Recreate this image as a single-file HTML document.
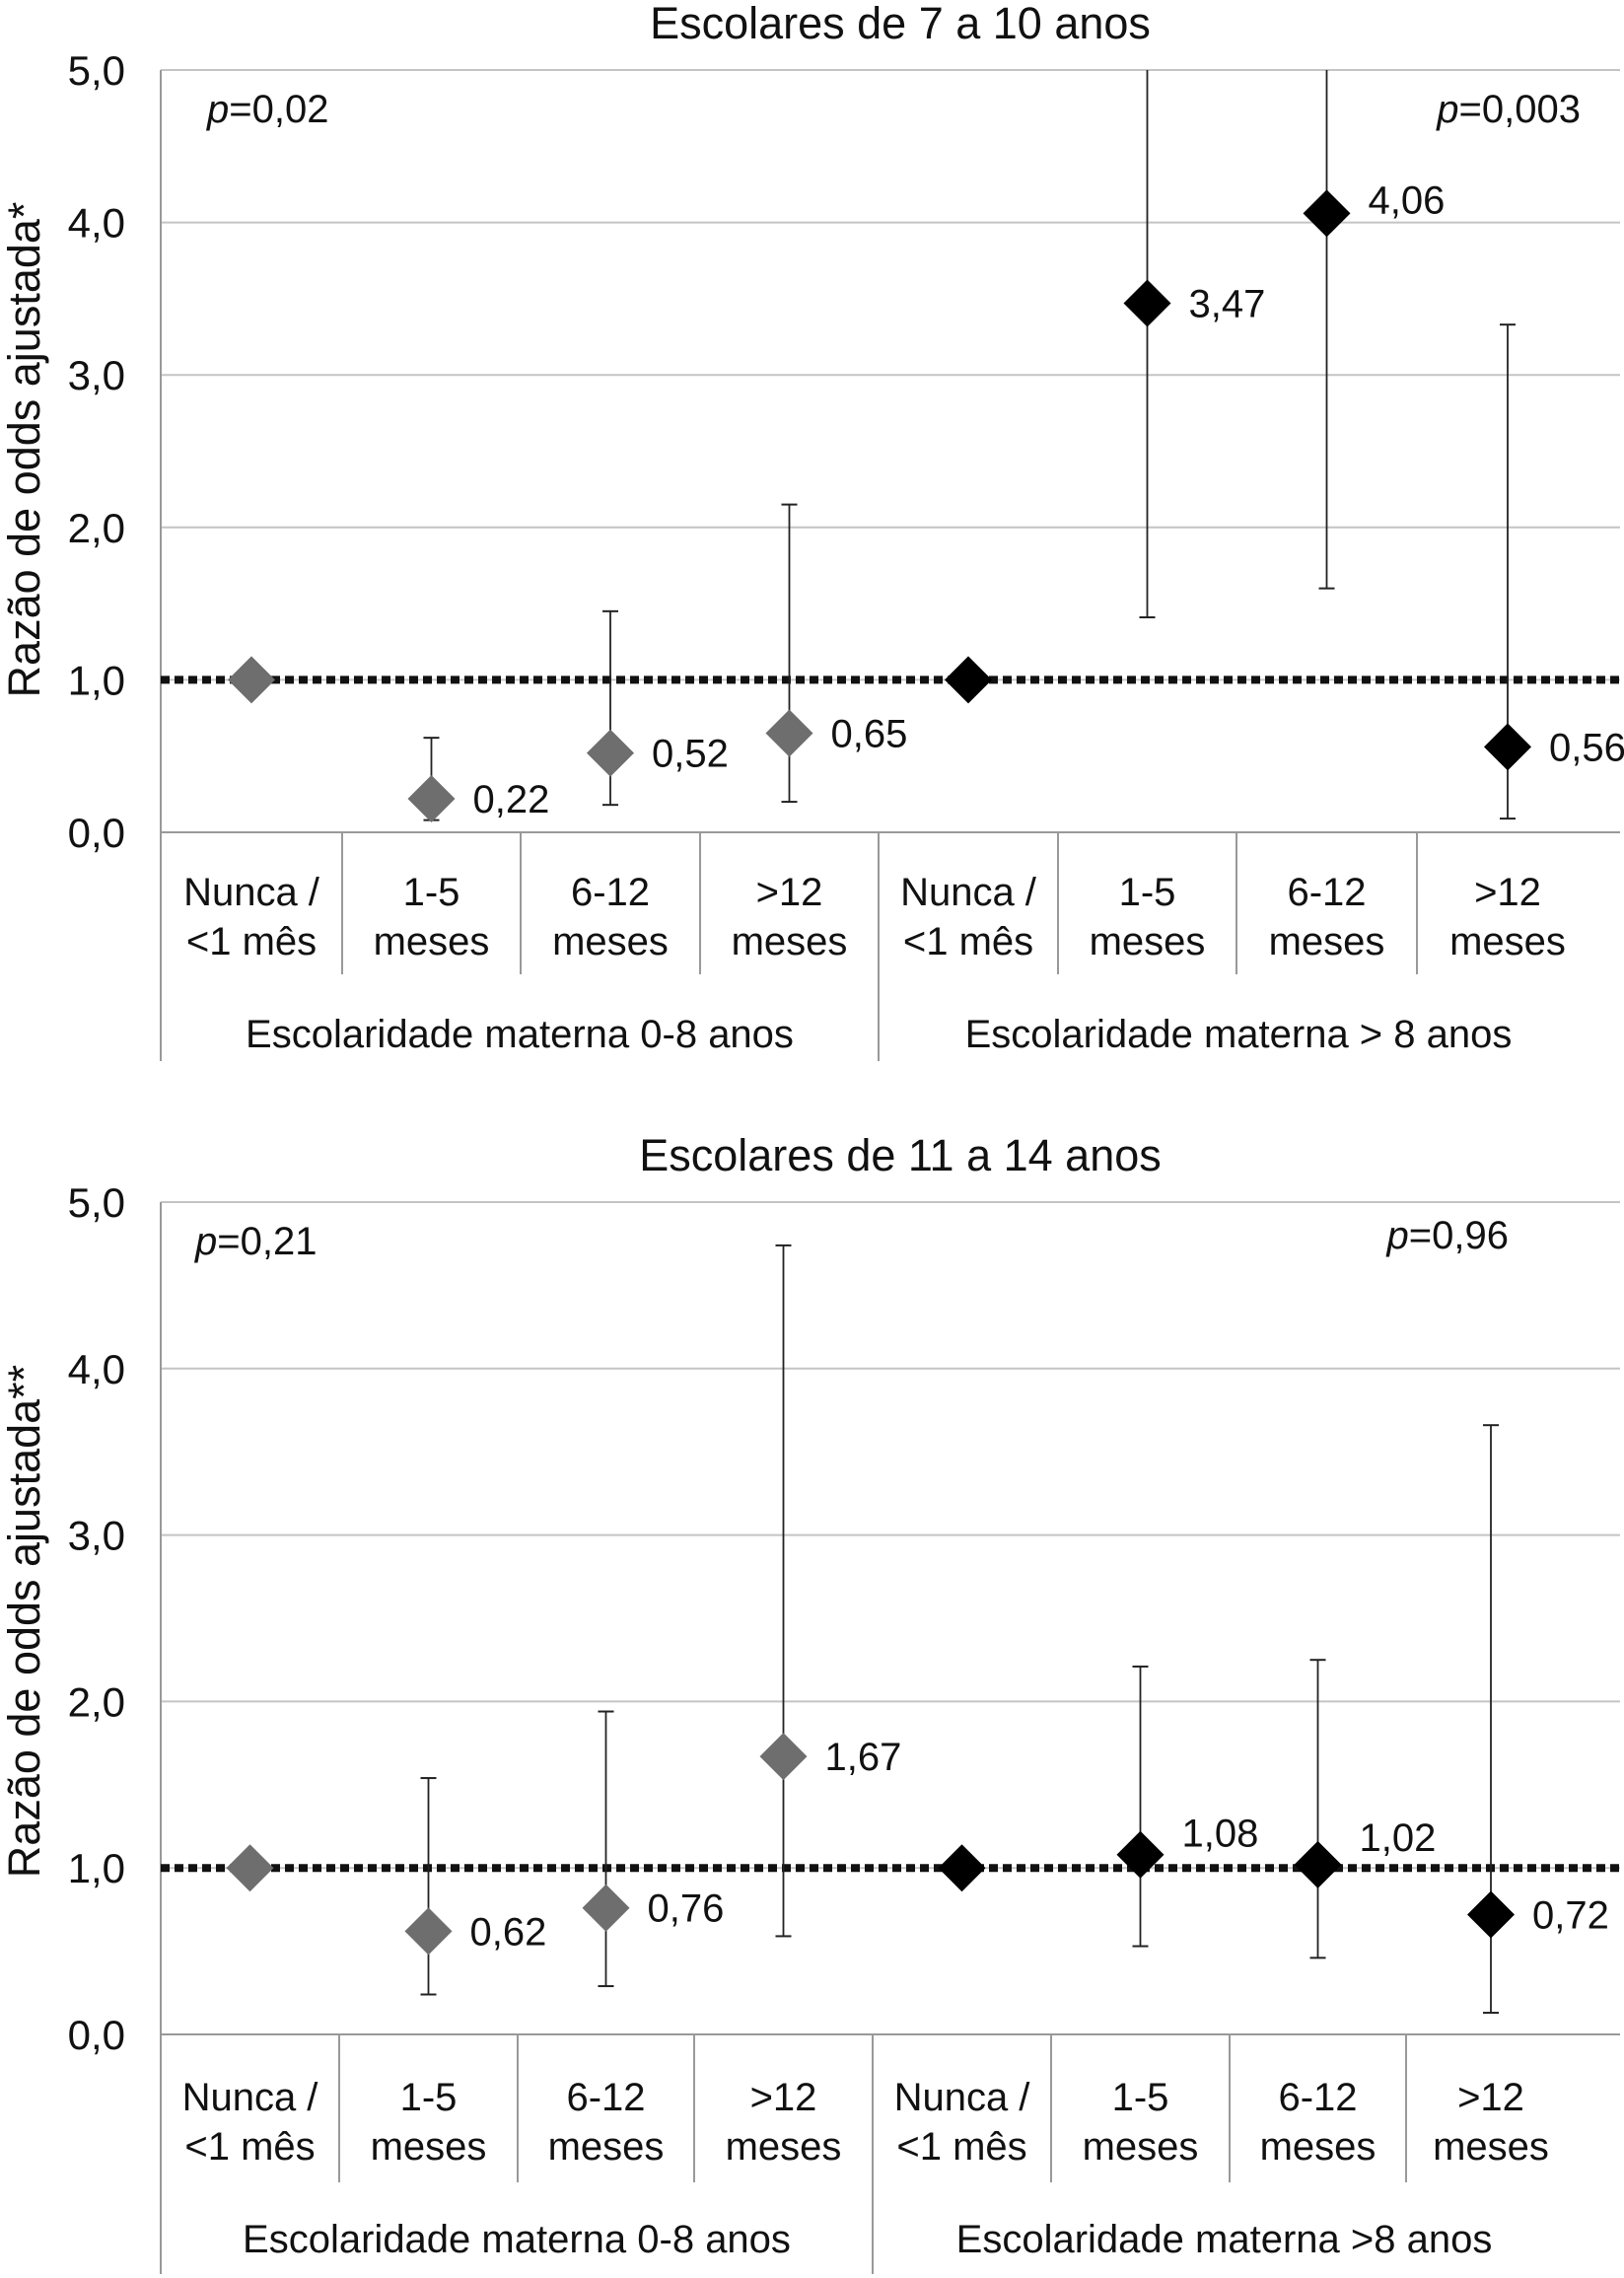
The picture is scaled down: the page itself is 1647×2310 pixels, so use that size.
<!DOCTYPE html>
<html><head><meta charset="utf-8"><style>
html,body{margin:0;padding:0;background:#fff}
svg{display:block;font-family:"Liberation Sans",Arial,sans-serif}
</style></head><body>
<svg id="svg" width="1647" height="2310" viewBox="0 0 1647 2310" xmlns="http://www.w3.org/2000/svg"></svg>
<script>
const categories = ["Nunca /|<1 mês","1-5|meses","6-12|meses",">12|meses","Nunca /|<1 mês","1-5|meses","6-12|meses",">12|meses"];
const groupLabelsTop = ["Escolaridade materna 0-8 anos","Escolaridade materna > 8 anos"];
const groupLabelsBottom = ["Escolaridade materna 0-8 anos","Escolaridade materna >8 anos"];
const yTicks = [0,1,2,3,4,5];
const yTickLabels = ["0,0","1,0","2,0","3,0","4,0","5,0"];
// Top chart (7-10 anos)
const topOR = [1,0.22,0.52,0.65,1,3.47,4.06,0.56];
const topLo = [null,0.08,0.18,0.20,null,1.41,1.60,0.09];
const topHi = [null,0.62,1.45,2.15,null,5.6,5.6,3.33];
const topLabels = [null,"0,22","0,52","0,65",null,"3,47","4,06","0,56"];
const topLabelRaise = [0,0,0,0,0,0,14,0];
// Bottom chart (11-14 anos)
const botOR = [1,0.62,0.76,1.67,1,1.08,1.02,0.72];
const botLo = [null,0.24,0.29,0.59,null,0.53,0.46,0.13];
const botHi = [null,1.54,1.94,4.74,null,2.21,2.25,3.66];
const botLabels = [null,"0,62","0,76","1,67",null,"1,08","1,02","0,72"];
const botLabelRaise = [0,0,0,0,0,22,28,0];

const NS="http://www.w3.org/2000/svg";
const svg=document.getElementById('svg');
function mk(tag,attrs,parent,text){const e=document.createElementNS(NS,tag);for(const k in attrs)e.setAttribute(k,attrs[k]);if(text!=null)e.textContent=text;(parent||svg).appendChild(e);return e;}

function chart(cfg){
  const g=mk('g',{});
  
  
  const L=163,R=1643;
  const y=v=>cfg.y0-(cfg.y0-cfg.y5)*v/5;
  const bnd=cfg.bounds;
  const cx=i=>(bnd[i]+bnd[i+1])/2;
  const t=mk('text',{x:(L+R)/2+10,y:cfg.titleY,'text-anchor':'middle','font-size':45,fill:'#111'},g,cfg.title);
  
  
  yTicks.forEach((v,i)=>{
    if(v>0){const gl=mk('line',{x1:L,x2:R,y1:y(v),y2:y(v),stroke:'#c4c4c4','stroke-width':2},g);
      
      }
    const tl=mk('text',{x:127,y:y(v)+15,'text-anchor':'end','font-size':42,fill:'#111'},g,yTickLabels[i]);
    
    
  });
  mk('line',{x1:L,x2:R,y1:y(0),y2:y(0),stroke:'#999','stroke-width':2},g);
  mk('line',{x1:L,x2:L,y1:y(5),y2:cfg.groupBottom,stroke:'#999','stroke-width':2},g);
  for(let i=1;i<8;i++){
    const yb = i===4?cfg.groupBottom:cfg.sepBottom;
    mk('line',{x1:bnd[i],x2:bnd[i],y1:y(0),y2:yb,stroke:'#999','stroke-width':2},g);
  }
  categories.forEach((c,i)=>{
    const [a,b]=c.split('|');
    const ct=mk('text',{x:cx(i),y:cfg.catY,'text-anchor':'middle','font-size':40,fill:'#111'},g);
    
    
    mk('tspan',{x:cx(i)},ct,a);
    mk('tspan',{x:cx(i),dy:50},ct,b);
  });
  cfg.groups.forEach((gl,k)=>{
    const gx=k===0?(bnd[0]+bnd[4])/2:(bnd[4]+bnd[8])/2;
    const gt=mk('text',{x:gx,y:cfg.groupY,'text-anchor':'middle','font-size':40,fill:'#111'},g,gl);
    
    
  });
  const yl=mk('text',{x:0,y:0,'text-anchor':'middle','font-size':45,fill:'#111',transform:`translate(40,${cfg.ylabY}) rotate(-90)`},g,cfg.ylabel);
  
  
  const ref=mk('line',{x1:L,x2:R,y1:y(1),y2:y(1),stroke:'#111','stroke-width':8,'stroke-dasharray':'9 5'},g);
  
  
  cfg.or.forEach((v,i)=>{
    const col=i<4?'#6e6e6e':'#000';
    if(cfg.lo[i]!=null){
      const hi=Math.min(cfg.hi[i],5);
      const eb=mk('line',{x1:cx(i),x2:cx(i),y1:y(cfg.lo[i]),y2:y(hi),stroke:'#222','stroke-width':1.8},g);
      
      
      mk('line',{x1:cx(i)-8,x2:cx(i)+8,y1:y(cfg.lo[i]),y2:y(cfg.lo[i]),stroke:'#222','stroke-width':2},g);
      if(cfg.hi[i]<=5) mk('line',{x1:cx(i)-8,x2:cx(i)+8,y1:y(hi),y2:y(hi),stroke:'#222','stroke-width':2},g);
    }
    const px=cx(i),py=y(v),s=24;
    const d=mk('polygon',{points:`${px},${py-s} ${px+s},${py} ${px},${py+s} ${px-s},${py}`,fill:col},g);
    
    
    if(cfg.labels[i]){
      const lt=mk('text',{x:px+42,y:py+14-(cfg.raise?cfg.raise[i]:0),'font-size':40,fill:'#111'},g,cfg.labels[i]);
      
      
    }
  });
  cfg.pv.forEach(p=>{
    const pt=mk('text',{x:p.x,y:p.y,'text-anchor':p.anchor,'font-size':40,fill:'#111'},g);
    
    
    mk('tspan',{'font-style':'italic'},pt,'p');
    mk('tspan',{},pt,'='+p.v);
  });
}
chart({name:'chart-7-10',title:'Escolares de 7 a 10 anos',titleY:39,y5:71,y0:844,
  bounds:[163,347,528,710,891,1073,1254,1437,1621],sepBottom:988,groupBottom:1076,catY:918,groupY:1062,
  groups:groupLabelsTop,ylabel:'Razão de odds ajustada*',ylabY:456,
  or:topOR,lo:topLo,hi:topHi,labels:topLabels,raise:topLabelRaise,
  pv:[{x:210,y:124,anchor:'start',v:'0,02'},{x:1603,y:124,anchor:'end',v:'0,003'}]});
chart({name:'chart-11-14',title:'Escolares de 11 a 14 anos',titleY:1187,y5:1219,y0:2063,
  bounds:[163,344,525,704,885,1066,1247,1426,1598],sepBottom:2213,groupBottom:2306,catY:2140,groupY:2284,
  groups:groupLabelsBottom,ylabel:'Razão de odds ajustada**',ylabY:1644,
  or:botOR,lo:botLo,hi:botHi,labels:botLabels,raise:botLabelRaise,
  pv:[{x:198,y:1272,anchor:'start',v:'0,21'},{x:1530,y:1266,anchor:'end',v:'0,96'}]});
</script>
</body></html>
